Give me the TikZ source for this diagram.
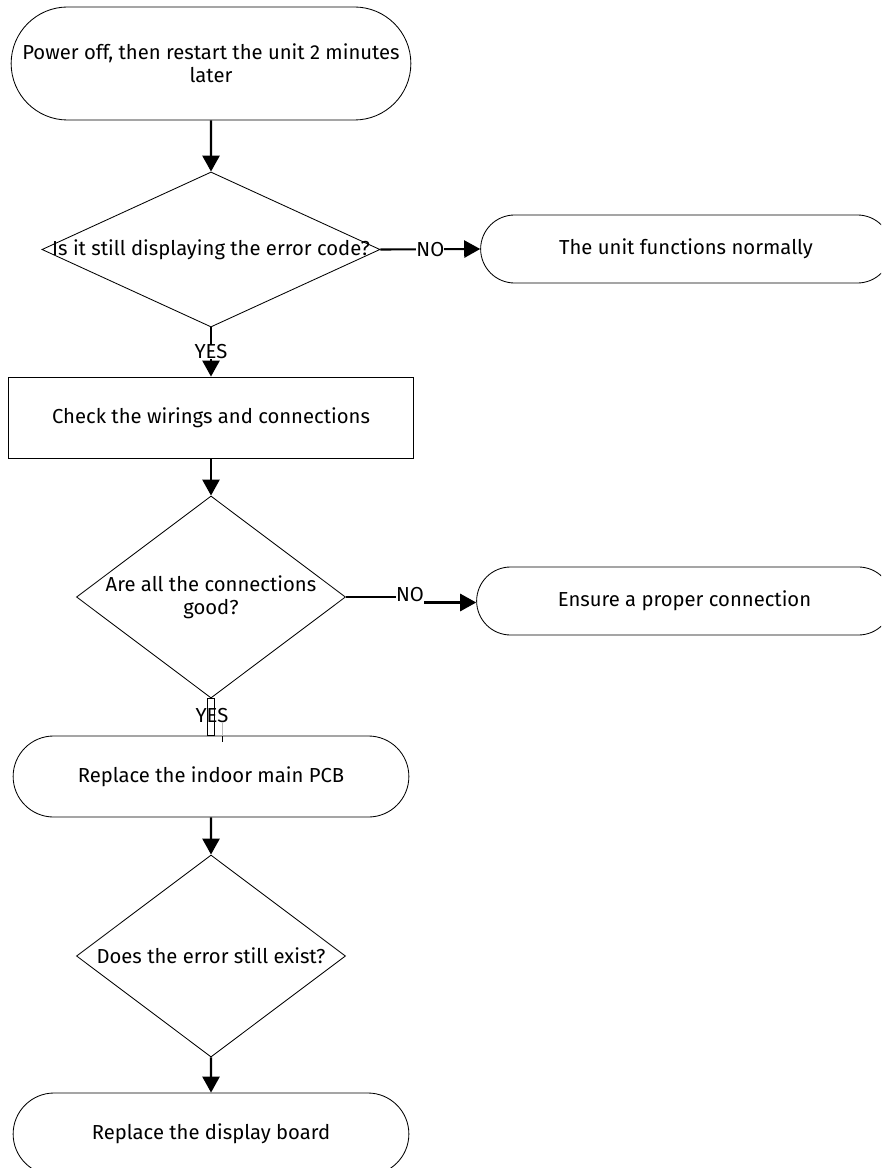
\documentclass[tikz,border=0pt]{standalone}
\usepackage{fontspec}
\setmainfont{Fira Sans}
\usetikzlibrary{shapes.geometric, shapes.misc, arrows.meta}

\begin{document}
\begin{tikzpicture}[x=0.025cm, y=-0.025cm,
    every node/.style={font=\fontsize{14.4}{16.5}\selectfont},
    term/.style={draw, rounded rectangle, line width=0.6pt, align=center},
    process/.style={draw, line width=0.6pt, minimum width=10.125cm, minimum height=2.025cm},
    decision/.style={draw, diamond, line width=0.6pt, inner sep=0pt},
    flow/.style={-{Triangle[length=0.4cm, width=0.43cm]}, line width=1.5pt},
    lbl/.style={fill=white, inner sep=0pt}]
  \useasboundingbox (0,0) rectangle (881,1168);
  \clip (0,0) rectangle (881,1168);

  % Main column
  \node[term, minimum width=10.225cm, minimum height=2.825cm]
    (start) at (211, 63.5) {Power off, then restart the unit 2 minutes\\later};
  \node[decision, minimum width=8.45cm, minimum height=3.875cm,
        label={center:Is it still displaying the error code?}]
    (still) at (211, 249.5) {};
  \node[process] (check) at (211, 417.5) {Check the wirings and connections};
  \node[decision, minimum width=6.725cm, minimum height=5.05cm,
        label={[align=center]center:Are all the connections\\good?}]
    (good) at (211, 597) {};
  \node[term, minimum width=10.125cm, minimum height=2.025cm]
    (pcb) at (211, 776.5) {Replace the indoor main PCB};
  \node[decision, minimum width=6.725cm, minimum height=5.05cm,
        label={center:Does the error still exist?}]
    (exist) at (211, 956) {};
  \node[term, minimum width=10.125cm, minimum height=2.05cm]
    (display) at (211, 1134) {Replace the display board};

  % Side branches
  \node[term, minimum width=10.5cm, minimum height=1.7cm]
    (normal) at (686, 249) {The unit functions normally};
  \node[term, minimum width=10.625cm, minimum height=1.7cm]
    (ensure) at (684.5, 601) {Ensure a proper connection};

  % Arrows
  \draw[flow] (start) -- (still);
  \draw[flow] (still.east) -- node[lbl] (no1) {NO} (normal.west);
  \draw[flow] (still.south) -- node[lbl] (yes1) {YES} (check.north);
  \draw[flow] (check) -- (good);
  \node[inner sep=0pt] (no2) at (410, 595) {NO};
  \draw[line width=1.5pt] (good.east) -- (good.east -| no2.west);
  \draw[flow] (no2.south east) -- (no2.south east -| ensure.west);
  \draw[line width=1pt] ([xshift=-0.0875cm]good.south) rectangle ([xshift=0.0875cm]pcb.north);
  \draw[gray!55, line width=1.2pt] (222.5, 723) -- (222.5, 736);
  \draw[line width=1.2pt] (222.5, 736) -- (222.5, 742);
  \node[inner sep=0pt] (yes2) at (212, 716) {YES};
  \draw[flow] (pcb) -- (exist);
  \draw[flow] (exist) -- (display);
\end{tikzpicture}
\end{document}
